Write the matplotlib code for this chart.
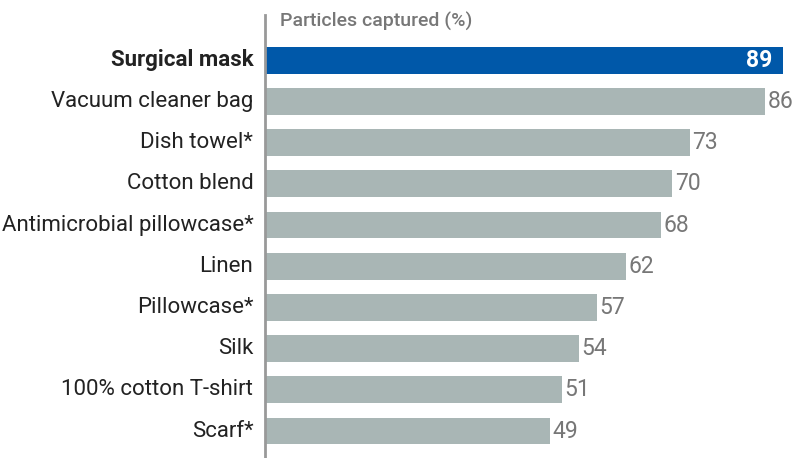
import matplotlib
matplotlib.use("Agg")
import matplotlib.pyplot as plt

categories = ["Surgical mask", "Vacuum cleaner bag", "Dish towel*", "Cotton blend",
              "Antimicrobial pillowcase*", "Linen", "Pillowcase*", "Silk",
              "100% cotton T-shirt", "Scarf*"]
values = [89, 86, 73, 70, 68, 62, 57, 54, 51, 49]
title = "Particles captured (%)"

plt.rcParams['font.family'] = ['Roboto', 'DejaVu Sans']

fig = plt.figure(figsize=(8, 4.58), dpi=100)
W, H = 800, 458
left_px, right_px = 265, 797.5
top_px, bot_px = 15, 458
ax = fig.add_axes([left_px / W, 1 - bot_px / H, (right_px - left_px) / W, (bot_px - top_px) / H])

blue = "#0058A9"
grey = "#A9B6B5"
colors = [blue] + [grey] * (len(values) - 1)
ypos = list(range(len(values)))
ax.barh(ypos, values, height=0.65, color=colors, zorder=2)

ax.set_xlim(0, 91.5)
ax.set_ylim(9.655, -1.097)

fs = 16.5
lfs = 16
for i, (c, v) in enumerate(zip(categories, values)):
    if i == 0:
        ax.text(v - 1.8, i, str(v), ha="right", va="center", color="white",
                fontsize=fs, fontweight="bold")
        ax.text(-2.0, i, c, ha="right", va="center", color="#222222",
                fontsize=lfs, fontweight="bold", clip_on=False)
    else:
        ax.text(v + 0.4, i, str(v), ha="left", va="center", color="#777777", fontsize=fs)
        ax.text(-2.0, i, c, ha="right", va="center", color="#222222",
                fontsize=lfs, clip_on=False)

ax.text(2.5, -0.95, title, ha="left", va="center", color="#777777", fontsize=14,
        fontweight="medium")

for s in ["top", "right", "bottom"]:
    ax.spines[s].set_visible(False)
ax.spines["left"].set_color("#999999")
ax.spines["left"].set_linewidth(2)
ax.set_xticks([])
ax.set_yticks([])
ax.patch.set_alpha(0)

fig.savefig("out.png", dpi=100)
